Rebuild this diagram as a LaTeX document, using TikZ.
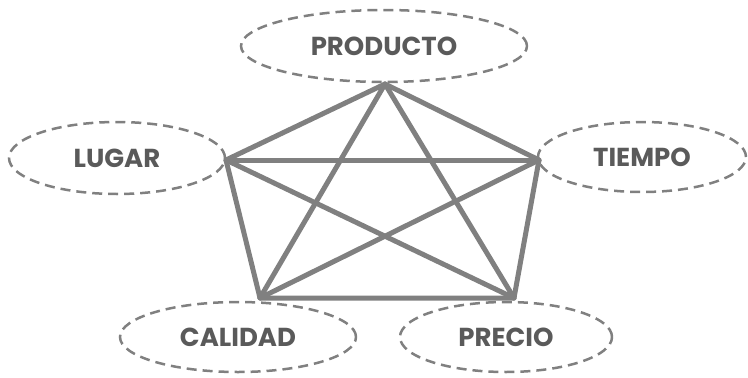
\documentclass[tikz,border=0pt]{standalone}
\usepackage{fontspec}
\setmainfont{Poppins}[UprightFont=* Bold]
\usetikzlibrary{shapes.geometric}
\definecolor{edgegray}{HTML}{808080}
\definecolor{textgray}{HTML}{5A5A5A}
\tikzset{
  lbl/.style={ellipse, draw=edgegray, dashed, dash pattern=on 10pt off 6pt, line width=2.5pt,
    inner sep=0pt, text=textgray, font=\fontsize{26}{30}\selectfont},
  edge/.style={draw=edgegray, line width=5pt, line cap=round, line join=round}
}
\begin{document}
\begin{tikzpicture}[x=1pt,y=-1pt]
\useasboundingbox (0,0) rectangle (748,378);
\node[lbl, minimum width=286pt, minimum height=72pt] (producto) at (384,46) {PRODUCTO};
\node[lbl, minimum width=216pt, minimum height=72pt] (lugar) at (117,158) {LUGAR};
\node[lbl, minimum width=208pt, minimum height=70pt] (tiempo) at (642,157) {TIEMPO};
\node[lbl, minimum width=236pt, minimum height=70pt] (calidad) at (238,337) {CALIDAD};
\node[lbl, minimum width=212pt, minimum height=70pt] (precio) at (506,337) {PRECIO};
\coordinate (T) at (385,84);
\coordinate (L) at (226,160);
\coordinate (R) at (539,160);
\coordinate (BL) at (260,298);
\coordinate (BR) at (514,298);
\draw[edge] (T) -- (L) -- (BL) -- (BR) -- (R) -- (T);
\draw[edge] (L) -- (R);
\draw[edge] (T) -- (BL);
\draw[edge] (T) -- (BR);
\draw[edge] (L) -- (BR);
\draw[edge] (R) -- (BL);
\end{tikzpicture}
\end{document}
